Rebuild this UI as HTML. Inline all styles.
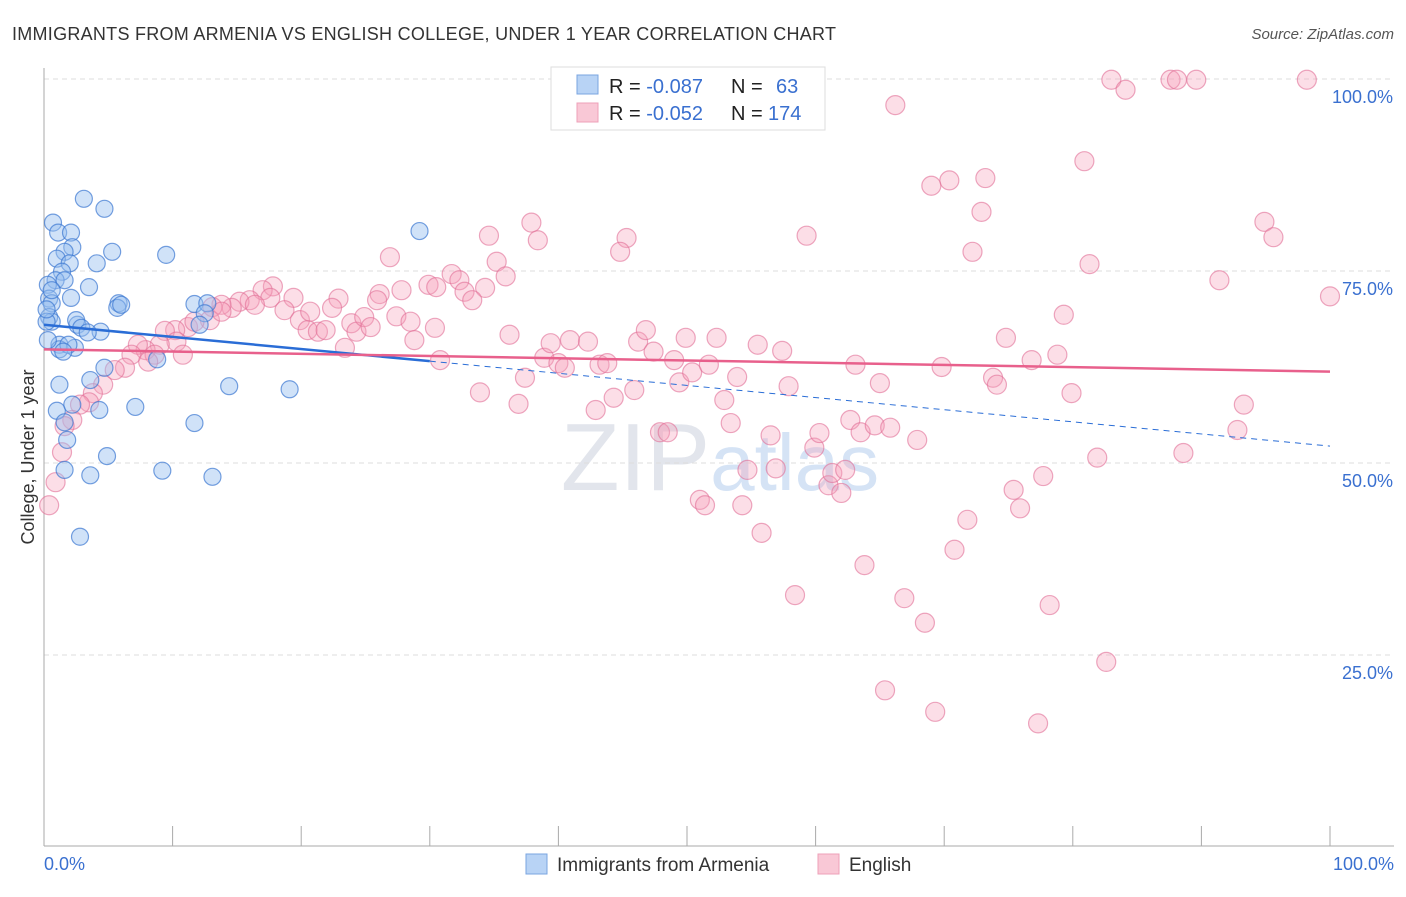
<!DOCTYPE html>
<html><head><meta charset="utf-8"><style>
body{margin:0;background:#fff;font-family:"Liberation Sans",sans-serif}
svg text{font-family:"Liberation Sans",sans-serif}
</style></head><body>
<svg id="c" width="1406" height="892" xmlns="http://www.w3.org/2000/svg">
<text x="12" y="40" font-size="18" fill="#333" textLength="824">IMMIGRANTS FROM ARMENIA VS ENGLISH COLLEGE, UNDER 1 YEAR CORRELATION CHART</text>
<text x="1394" y="39" font-size="15" fill="#555" font-style="italic" text-anchor="end">Source: ZipAtlas.com</text>
<text x="720" y="490" font-size="96" fill="#e2e5ec" text-anchor="middle" font-family="Liberation Serif">ZIP<tspan fill="#d5e3f5" font-family="Liberation Sans" font-size="80">atlas</tspan></text>
<g id="grid"></g><g id="pts"></g><g id="lines"></g>
<text transform="translate(34,457) rotate(-90)" font-size="18" fill="#333" text-anchor="middle">College, Under 1 year</text>
<text x="44" y="870" font-size="18" fill="#3a70d0">0.0%</text>
<text x="1394" y="870" font-size="18" fill="#3a70d0" text-anchor="end">100.0%</text>
<g>
<rect x="551" y="67" width="274" height="63" fill="#fff" stroke="#ddd"/>
<rect x="577" y="75" width="21" height="19" fill="#b8d3f5" stroke="#7aa5e0"/>
<rect x="577" y="103" width="21" height="19" fill="#f9c8d6" stroke="#eea0b8"/>
<text x="609" y="93" font-size="20" fill="#222">R = <tspan fill="#3a70d0">-0.087</tspan><tspan x="731">N = </tspan><tspan x="776" fill="#3a70d0">63</tspan></text>
<text x="609" y="120" font-size="20" fill="#222">R = <tspan fill="#3a70d0">-0.052</tspan><tspan x="731">N = </tspan><tspan x="768" fill="#3a70d0">174</tspan></text>
</g>
<g><rect x="526" y="854" width="21" height="20" fill="#b8d3f5" stroke="#7aa5e0"/><text x="557" y="871" font-size="19" fill="#333">Immigrants from Armenia</text></g>
<g><rect x="818" y="854" width="21" height="20" fill="#f9c8d6" stroke="#eea0b8"/><text x="849" y="871" font-size="19" fill="#333">English</text></g>
</svg>
<script>
const yTicks=[25,50,75,100];
const yTickLabels=["25.0%","50.0%","75.0%","100.0%"];
const xTicks=[0,10,20,30,40,50,60,70,80,90,100];
const blueX=[0.7,1.1,2.1,3.1,4.7,2.2,1.6,5.3,9.5,29.2,4.1,1,2,1.4,0.9,1.6,3.5,0.3,0.4,0.6,2.1,5.8,5.7,11.7,12.7,12.5,12.1,0.4,0.6,0.2,2.6,2.5,2.9,4.4,1.2,1.2,2.4,8.8,4.7,3.6,1.2,14.4,19.1,1,2.2,4.3,7.1,1.6,1.8,11.7,4.9,1.6,3.6,9.2,13.1,2.8,0.2,0.6,0.3,3.4,1.9,1.5,6];
const blueY=[81.3,80,80,84.4,83.1,78.1,77.5,77.5,77.1,80.2,76,76.6,76,74.9,73.8,73.8,72.9,73.2,71.4,70.8,71.5,70.8,70.2,70.7,70.8,69.5,68,69,68.4,68.4,68,68.6,67.6,67.1,65.4,64.8,65,63.5,62.4,60.8,60.2,60,59.6,56.8,57.6,56.9,57.3,55.3,53,55.2,50.9,49.1,48.4,49,48.2,40.4,70,72.5,66,67,65.4,64.5,70.6];
const pinkX=[83,84.1,87.6,88.1,89.6,98.2,66.2,80.9,70.4,69,73.2,72.9,94.9,95.6,37.9,38.4,34.6,45.3,44.8,59.3,72.2,81.3,91.4,100,26.9,35.2,35.9,31.7,32.3,29.9,30.5,27.8,26.1,34.3,32.7,33.3,25.9,22.9,19.4,17.8,17,17.6,16,15.2,14.6,13.8,13.1,12.9,11.2,10.2,9.4,10.3,9,7.9,7.3,8.6,6.8,6.3,5.5,4.6,3.8,3.5,2.8,2.2,1.4,0.9,0.4,18.7,19.9,20.5,21.3,21.9,22.4,23.4,23.9,24.3,24.9,25.4,27.4,28.5,28.8,30.4,30.8,33.9,36.2,36.9,37.4,38.9,39.4,40,40.5,40.9,42.3,42.9,43.2,43.8,44.3,45.9,46.2,46.8,47.4,47.9,48.5,49,49.4,49.9,50.4,51,51.4,51.7,52.3,52.9,53.4,53.9,54.3,54.7,55.5,55.8,56.5,56.9,57.4,57.9,58.4,59.9,60.3,61,61.3,62,62.3,62.7,63.1,63.5,63.8,64.6,65,65.4,65.8,66.9,67.9,68.5,69.3,69.8,70.8,71.8,73.8,74.1,74.8,75.4,75.9,76.8,77.3,77.7,78.2,78.8,79.3,79.9,81.9,82.6,88.6,93.3,92.8,8.1,10.8,11.7,13.8,16.4,20.7,1.6];
const pinkY=[99.9,98.6,99.9,99.9,99.9,99.9,96.6,89.3,86.8,86.1,87.1,82.7,81.4,79.4,81.3,79,79.6,79.3,77.5,79.6,77.5,75.9,73.8,71.7,76.8,76.2,74.3,74.6,73.8,73.2,72.9,72.5,72,72.8,72.3,71.2,71.2,71.4,71.5,73,72.5,71.5,71.2,71,70.2,70.6,70.3,68.6,67.7,67.3,67.2,65.8,65.4,64.7,65.4,64.1,64.1,62.4,62.1,60.2,59.1,57.9,57.6,55.6,51.4,47.5,44.5,69.9,68.6,67.3,67.1,67.3,70.2,65,68.2,67.1,69,67.7,69.1,68.4,66,67.6,63.4,59.2,66.7,57.7,61.1,63.7,65.6,63,62.4,66,65.8,56.9,62.8,63,58.5,59.5,65.8,67.3,64.5,54,54,63.4,60.5,66.3,61.8,45.2,44.5,62.8,66.3,58.2,55.2,61.2,44.5,49.1,65.4,40.9,53.6,49.3,64.6,60,32.8,52,53.9,47.1,48.7,46.1,49.1,55.6,62.8,54,36.7,54.9,60.4,20.4,54.6,32.4,53,29.2,17.6,62.5,38.7,42.6,61.1,60.2,66.3,46.5,44.1,63.4,16.1,48.3,31.5,64.1,69.3,59.1,50.7,24.1,51.3,57.6,54.3,63.2,64.1,68.4,69.7,70.6,69.7,54.8];
const blueFit=[68.0,-0.158];
const pinkFit=[64.8,-0.029];
const X0=44,X1=1330,Y0=847,Y100=79;
const sx=v=>X0+(X1-X0)*v/100, sy=v=>Y0-(Y0-Y100)*v/100;
const NS="http://www.w3.org/2000/svg";
function mk(tag,attrs,parent){const e=document.createElementNS(NS,tag);for(const k in attrs)e.setAttribute(k,attrs[k]);parent.appendChild(e);return e;}
const grid=document.getElementById('grid'),pts=document.getElementById('pts'),lines=document.getElementById('lines');
yTicks.forEach((t,i)=>{
 const l=mk('line',{x1:44,x2:1394,y1:sy(t),y2:sy(t),stroke:'#ddd','stroke-dasharray':'5,4'},grid);
 
 
 const tx=mk('text',{x:1393,y:sy(t)+24,'font-size':18,fill:'#3a70d0','text-anchor':'end'},grid);
 tx.textContent=yTickLabels[i];
 
 
});
const ax=mk('line',{x1:44,x2:44,y1:68,y2:846,stroke:'#aaa'},grid);


const bx=mk('line',{x1:44,x2:1394,y1:846,y2:846,stroke:'#aaa'},grid);


xTicks.forEach(t=>{
 const l=mk('line',{x1:sx(t),x2:sx(t),y1:826,y2:846,stroke:'#aaa'},grid);
 
 
});
pinkX.forEach((x,i)=>{
 const c=mk('circle',{cx:sx(x),cy:sy(pinkY[i]),r:9.5,fill:'rgba(245,160,185,0.35)',stroke:'rgba(225,110,150,0.6)','stroke-width':1.2},pts);
 
 
});
blueX.forEach((x,i)=>{
 const c=mk('circle',{cx:sx(x),cy:sy(blueY[i]),r:8.5,fill:'rgba(150,190,240,0.45)',stroke:'rgba(60,120,210,0.7)','stroke-width':1.2},pts);
 
 
});
const f=(fit,x)=>fit[0]+fit[1]*x;
const b1=mk('line',{x1:sx(0),y1:sy(f(blueFit,0)),x2:sx(30),y2:sy(f(blueFit,30)),stroke:'#2a6dd6','stroke-width':2.5},lines);


const b2=mk('line',{x1:sx(30),y1:sy(f(blueFit,30)),x2:sx(100),y2:sy(f(blueFit,100)),stroke:'#2a6dd6','stroke-width':1,'stroke-dasharray':'6,5'},lines);


const p1=mk('line',{x1:sx(0),y1:sy(f(pinkFit,0)),x2:sx(100),y2:sy(f(pinkFit,100)),stroke:'#e8608c','stroke-width':2.5},lines);


</script>
</body></html>
